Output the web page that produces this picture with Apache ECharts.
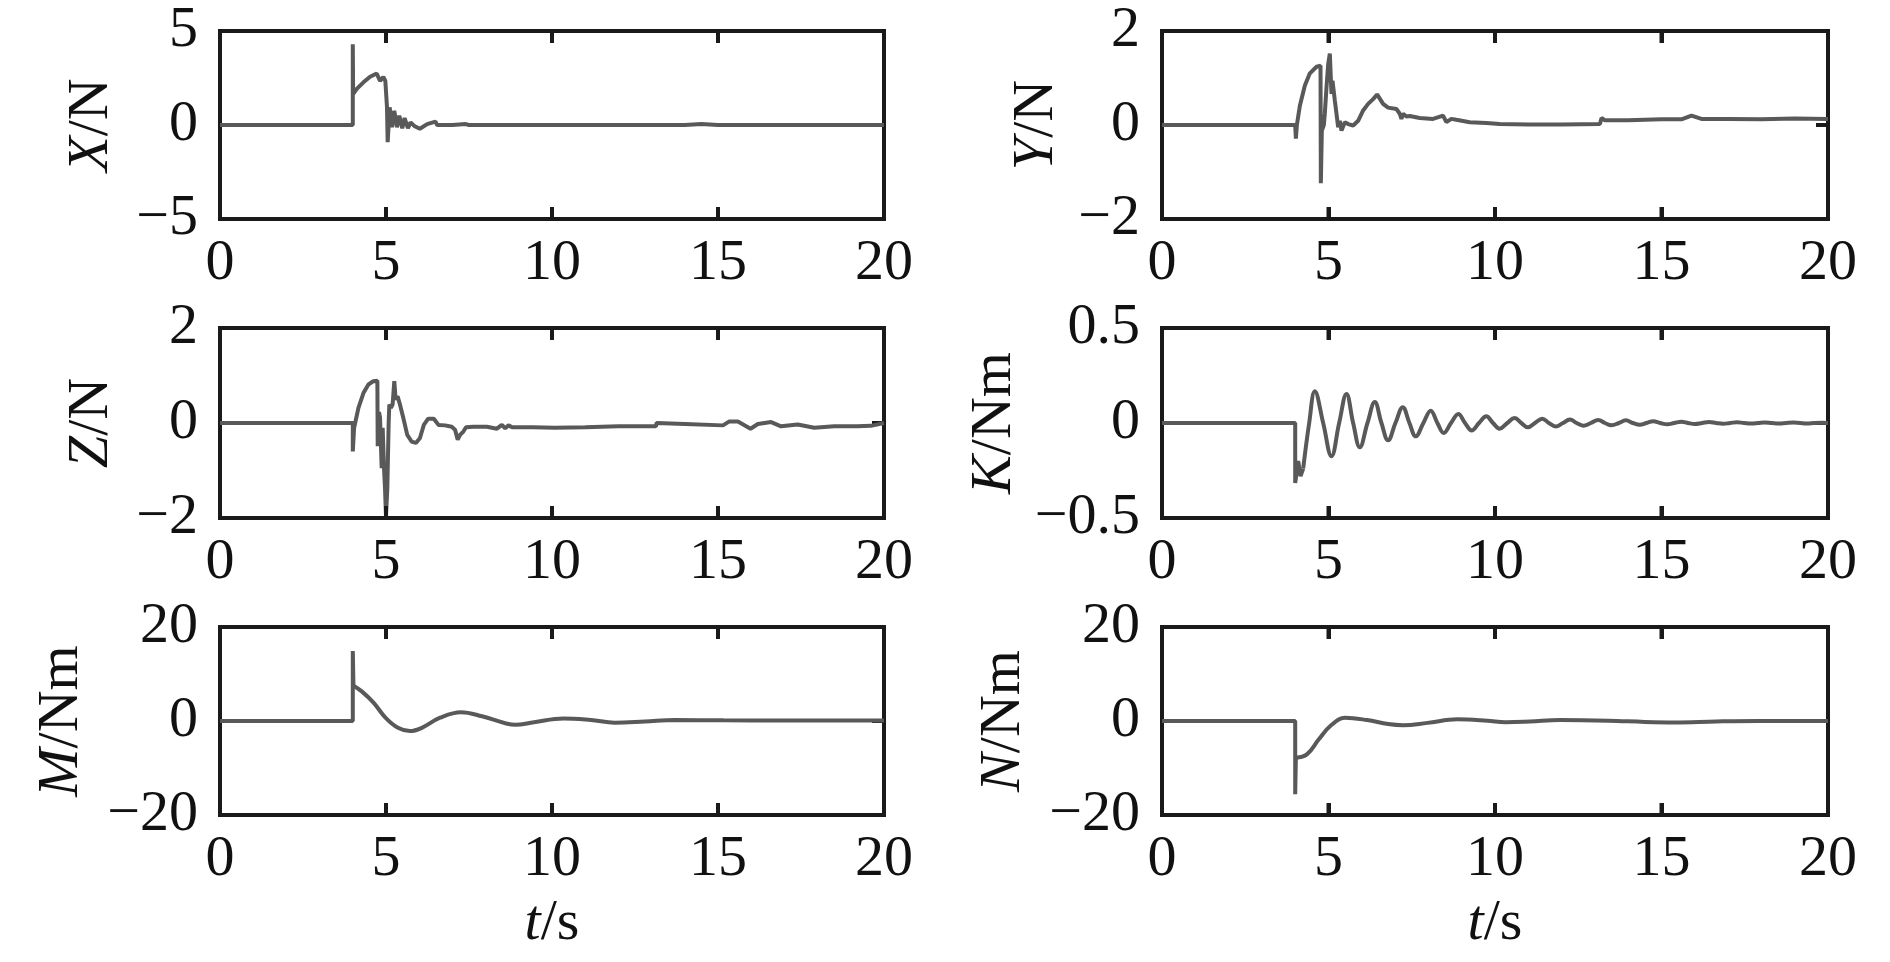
<!DOCTYPE html>
<html><head><meta charset="utf-8">
<script src="https://cdn.jsdelivr.net/npm/echarts@6/dist/echarts.min.js"></script>
<style>html,body{margin:0;padding:0;background:#fff}#c{width:1890px;height:962px}</style>
</head><body><div id="c"></div>
<script>
// ---------- data (time s, value) ----------
const timeTicks = [0, 5, 10, 15, 20];

const forceX = [[0,0],[4.0,0],[4.0,4.3],[4.01,1.65],[4.12,1.92],[4.32,2.27],[4.52,2.57],[4.72,2.74],[4.82,2.35],[4.92,2.55],[4.98,2.35],[5.03,0.94],[5.05,-0.91],[5.11,0.94],[5.18,-0.12],[5.25,0.75],[5.33,-0.12],[5.40,0.5],[5.49,-0.17],[5.56,0.37],[5.66,-0.17],[5.74,0.14],[5.85,-0.05],[6.02,-0.2],[6.24,0.05],[6.49,0.18],[6.54,0.0],[7.0,0.0],[7.4,0.05],[7.5,0.0],[10,0.0],[14,0.0],[14.5,0.05],[15,0.0],[20,0.0]];

const forceY = [[0,0],[4.0,0],[4.02,-0.29],[4.05,0],[4.14,0.41],[4.29,0.84],[4.44,1.10],[4.64,1.24],[4.76,1.26],[4.77,-1.24],[4.80,-0.12],[4.86,0],[4.89,0.25],[4.94,0.80],[4.99,1.29],[5.04,1.52],[5.09,0.66],[5.12,0.94],[5.19,0.52],[5.24,0.52],[5.29,-0.05],[5.34,0.09],[5.39,-0.12],[5.49,0.06],[5.59,0.02],[5.74,-0.01],[5.89,0.09],[6.04,0.31],[6.19,0.45],[6.34,0.55],[6.46,0.65],[6.64,0.45],[6.79,0.37],[7.04,0.34],[7.14,0.24],[7.19,0.13],[7.24,0.24],[7.34,0.18],[7.44,0.19],[7.74,0.15],[8.14,0.13],[8.44,0.20],[8.54,0.06],[8.69,0.13],[8.84,0.11],[9.24,0.06],[9.74,0.04],[10.14,0.02],[11,0.01],[12,0.01],[13.15,0.02],[13.2,0.15],[13.3,0.1],[14,0.1],[15,0.12],[15.6,0.12],[15.9,0.2],[16.2,0.13],[17,0.13],[18,0.12],[19,0.14],[20,0.13]];

const forceZ = [[0,0],[4.0,0],[4.0,-0.6],[4.04,-0.1],[4.17,0.32],[4.32,0.63],[4.47,0.81],[4.62,0.88],[4.74,0.89],[4.75,-0.49],[4.79,0.23],[4.82,0.12],[4.87,-0.95],[4.9,-0.1],[4.94,-0.95],[4.97,-1.37],[5.0,-1.96],[5.04,-1.37],[5.08,0.0],[5.10,0.39],[5.15,0.32],[5.2,0.39],[5.25,0.88],[5.29,0.49],[5.35,0.56],[5.42,0.39],[5.52,0.11],[5.64,-0.25],[5.77,-0.39],[5.9,-0.42],[6.02,-0.32],[6.14,-0.04],[6.27,0.09],[6.44,0.09],[6.58,-0.04],[6.78,-0.05],[6.98,-0.08],[7.08,-0.14],[7.16,-0.35],[7.23,-0.25],[7.33,-0.18],[7.41,-0.09],[7.63,-0.08],[8.04,-0.08],[8.34,-0.12],[8.39,-0.16],[8.49,-0.04],[8.59,-0.11],[8.69,-0.05],[8.8,-0.09],[9.42,-0.09],[10.08,-0.1],[11,-0.09],[12,-0.07],[13.13,-0.07],[13.15,0.0],[14,-0.02],[15.15,-0.05],[15.33,0.03],[15.6,0.03],[15.98,-0.12],[16.2,-0.02],[16.6,0.02],[16.9,-0.07],[17.4,-0.03],[17.9,-0.1],[18.5,-0.07],[19.2,-0.07],[19.6,-0.06],[20,0.0]];

const momentKStep = [[0,0],[4.0,0],[4.0,-0.316],[4.09,-0.2],[4.16,-0.28],[4.24,-0.24]];
const momentKWave = [[4.24,-0.24],[4.42,0.0],[4.59,0.167],[4.84,0],[5.09,-0.175],[5.32,0],[5.54,0.153],[5.74,0],[5.94,-0.128],[6.17,0],[6.39,0.11],[6.59,0],[6.79,-0.091],[7.01,0],[7.23,0.083],[7.43,0],[7.62,-0.07],[7.85,0],[8.07,0.065],[8.27,0],[8.46,-0.053],[8.68,0],[8.9,0.047],[9.1,0],[9.3,-0.039],[9.52,0],[9.74,0.035],[9.94,0],[10.14,-0.03],[10.37,0],[10.59,0.026],[10.79,0],[10.99,-0.023],[11.2,0],[11.42,0.023],[11.62,0],[11.82,-0.018],[12.04,0],[12.25,0.019],[12.45,0],[12.65,-0.014],[12.88,0],[13.1,0.016],[13.3,0],[13.5,-0.012],[13.72,0],[13.93,0.014],[14.14,0],[14.35,-0.009],[14.55,0],[14.75,0.009],[14.96,0],[15.17,-0.007],[15.38,0],[15.6,0.007],[15.8,0],[16.0,-0.005],[16.22,0],[16.43,0.005],[16.64,0],[16.85,-0.004],[17.06,0],[17.27,0.004],[17.48,0],[17.7,-0.003],[17.9,0],[18.1,0.003],[18.32,0],[18.53,-0.002],[18.74,0],[18.95,0.002],[19.16,0],[19.37,-0.002],[19.58,0],[19.8,0.001],[20,0]];

const momentMStep = [[0,0],[4.0,0],[4.0,14.9],[4.02,7.5]];
const momentMWave = [[4.02,7.5],[4.27,6.3],[4.63,3.85],[4.99,0.67],[5.36,-1.45],[5.72,-2.15],[6.08,-1.45],[6.63,0.7],[7.26,1.87],[7.89,1.0],[8.62,-0.53],[8.9,-0.82],[9.46,-0.25],[10.35,0.53],[11.17,0.2],[11.89,-0.35],[12.8,-0.1],[13.7,0.2],[15.16,0.15],[17,0.1],[20,0.1]];

const momentNStep = [[0,0],[4.0,0],[4.0,-15.6],[4.02,-7.8]];
const momentNWave = [[4.02,-7.8],[4.35,-7.1],[4.71,-3.9],[5.07,-0.95],[5.5,0.7],[6.16,0.2],[6.79,-0.65],[7.24,-0.9],[7.97,-0.4],[8.87,0.35],[9.77,0.07],[10.32,-0.25],[11.05,-0.1],[11.95,0.2],[13.4,0.07],[14.5,-0.2],[15.39,-0.3],[16.65,-0.1],[17.9,0],[20,0]];

const yLabels = ['{i|X}{n|/N}','{i|Y}{n|/N}','{i|Z}{n|/N}','{i|K}{n|/Nm}','{i|M}{n|/Nm}','{i|N}{n|/Nm}'];
const yRanges = [[-5,5,5],[-2,2,2],[-2,2,2],[-0.5,0.5,0.5],[-20,20,20],[-20,20,20]];
const xLabel = '{i|t}{n|/s}';

// ---------- layout ----------
const FONT = "'Liberation Serif','Times New Roman',serif";
const FS = 58;
const INK = '#1a1a1a';
const LINE = '#595959';
const TICK_LEN = 12;
const grids = [
  {left:220, top:31, width:664, height:188},
  {left:1162, top:31, width:666, height:188},
  {left:220, top:328, width:664, height:190},
  {left:1162, top:328, width:666, height:190},
  {left:220, top:627, width:664, height:188},
  {left:1162, top:627, width:666, height:188}
];
const nameGaps = [99, 96, 99, 138, 129, 129];
const panelSeries = [
  [{d:forceX, s:false}],
  [{d:forceY, s:false}],
  [{d:forceZ, s:false}],
  [{d:momentKStep, s:false},{d:momentKWave, s:0.4}],
  [{d:momentMStep, s:false},{d:momentMWave, s:0.4}],
  [{d:momentNStep, s:false},{d:momentNWave, s:0.4}]
];

const rich = {
  i:{fontFamily:FONT, fontSize:FS, fontStyle:'italic', color:'#111'},
  n:{fontFamily:FONT, fontSize:FS, color:'#111'}
};
const fmt = v => (v < 0 ? '\u2212' : '') + Math.abs(v);
const mkTick = () => ({show:true, inside:true, length:TICK_LEN, interval:0, lineStyle:{color:INK, width:4}});
const mkLine = () => ({show:true, onZero:false, lineStyle:{color:INK, width:4, cap:'square'}});
const lab = {fontFamily:FONT, fontSize:FS, color:'#111'};

const option = {animation:false, grid:[], xAxis:[], yAxis:[], series:[]};
grids.forEach((g, i) => {
  option.grid.push(Object.assign({show:false}, g));
  const bottomRow = i >= 4;
  const r = yRanges[i];
  option.xAxis.push({
    gridIndex:i, type:'value', position:'bottom', min:timeTicks[0], max:timeTicks[timeTicks.length-1], interval:5,
    axisLine:mkLine(), axisTick:mkTick(), splitLine:{show:false},
    axisLabel:Object.assign({margin:16, formatter:fmt}, lab),
    name: bottomRow ? xLabel : '', nameLocation:'middle', nameGap:80,
    nameTextStyle:{rich:rich, fontFamily:FONT, fontSize:FS}
  });
  option.xAxis.push({
    gridIndex:i, type:'value', position:'top', min:0, max:20, interval:5,
    axisLine:mkLine(), axisTick:mkTick(), splitLine:{show:false}, axisLabel:{show:false}
  });
  option.yAxis.push({
    gridIndex:i, type:'value', position:'left', min:r[0], max:r[1], interval:r[2],
    axisLine:mkLine(), axisTick:mkTick(), splitLine:{show:false},
    axisLabel:Object.assign({margin:22, formatter:fmt}, lab),
    name:yLabels[i], nameLocation:'middle', nameGap:nameGaps[i],
    nameTextStyle:{rich:rich, fontFamily:FONT, fontSize:FS}
  });
  option.yAxis.push({
    gridIndex:i, type:'value', position:'right', min:r[0], max:r[1], interval:r[2],
    axisLine:mkLine(), axisTick:mkTick(), splitLine:{show:false}, axisLabel:{show:false}
  });
  panelSeries[i].forEach(ps => {
    option.series.push({
      type:'line', xAxisIndex:2*i, yAxisIndex:2*i, data:ps.d,
      smooth:ps.s, showSymbol:false, symbol:'none',
      lineStyle:{color:LINE, width:4}, z:3
    });
  });
  // inner x ticks at top and bottom frame, placed through the axis scales
  option.series.push({
    type:'custom', xAxisIndex:2*i, yAxisIndex:2*i, z:5, silent:true, clip:false,
    data: timeTicks.map(t => [t, 0]),
    renderItem: (params, api) => {
      const t = api.value(0);
      const pb = api.coord([t, r[0]]);
      const pt = api.coord([t, r[1]]);
      return {type:'group', children:[
        {type:'line', shape:{x1:pb[0], y1:pb[1], x2:pb[0], y2:pb[1]-TICK_LEN}, style:{stroke:INK, lineWidth:4}},
        {type:'line', shape:{x1:pt[0], y1:pt[1], x2:pt[0], y2:pt[1]+TICK_LEN}, style:{stroke:INK, lineWidth:4}}
      ]};
    }
  });
});

const chart = echarts.init(document.getElementById('c'), null, {renderer:'canvas'});
chart.setOption(option);
</script>
</body></html>
